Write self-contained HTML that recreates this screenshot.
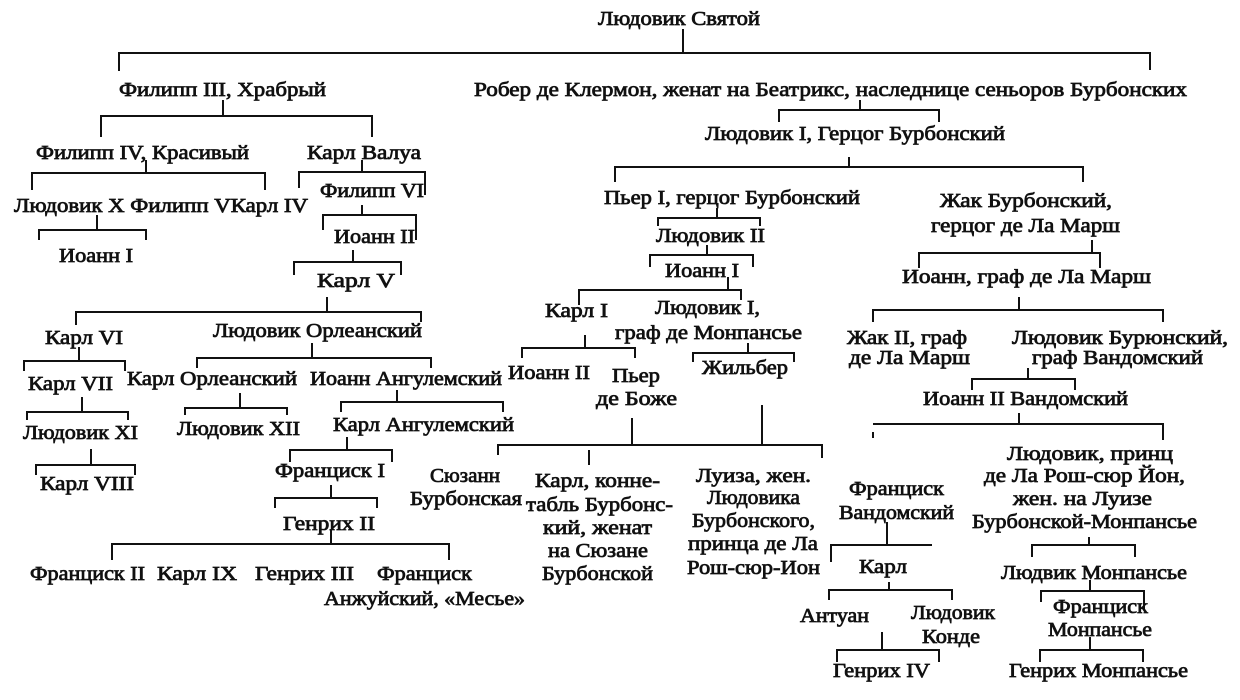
<!DOCTYPE html>
<html><head><meta charset="utf-8"><style>
html,body{margin:0;padding:0;background:#fff;}
svg{display:block;}
text{font-family:"Liberation Serif","DejaVu Serif",serif;font-size:20px;fill:#111;stroke:#111;stroke-width:0.75;}
line,polyline{stroke:#111;stroke-width:2;fill:none;}
</style></head><body>
<svg width="1240" height="700" viewBox="0 0 1240 700" xmlns="http://www.w3.org/2000/svg">
<g>
<text x="598" y="25" textLength="162" lengthAdjust="spacingAndGlyphs">Людовик Святой</text>
<text x="119" y="96" textLength="207" lengthAdjust="spacingAndGlyphs">Филипп III, Храбрый</text>
<text x="474" y="96" textLength="713" lengthAdjust="spacingAndGlyphs">Робер де Клермон, женат на Беатрикс,  наследнице сеньоров Бурбонских</text>
<text x="36" y="159" textLength="213" lengthAdjust="spacingAndGlyphs">Филипп IV, Красивый</text>
<text x="307" y="159" textLength="114" lengthAdjust="spacingAndGlyphs">Карл Валуа</text>
<text x="14" y="212" textLength="294" lengthAdjust="spacingAndGlyphs">Людовик X Филипп VКарл IV</text>
<text x="320" y="197" textLength="104" lengthAdjust="spacingAndGlyphs">Филипп VI</text>
<text x="334" y="243" textLength="81" lengthAdjust="spacingAndGlyphs">Иоанн II</text>
<text x="59" y="262" textLength="74" lengthAdjust="spacingAndGlyphs">Иоанн I</text>
<text x="317" y="287" textLength="78" lengthAdjust="spacingAndGlyphs">Карл V</text>
<text x="45" y="344" textLength="78" lengthAdjust="spacingAndGlyphs">Карл VI</text>
<text x="213" y="337" textLength="209" lengthAdjust="spacingAndGlyphs">Людовик Орлеанский</text>
<text x="28" y="390" textLength="85" lengthAdjust="spacingAndGlyphs">Карл VII</text>
<text x="127" y="385" textLength="170" lengthAdjust="spacingAndGlyphs">Карл Орлеанский</text>
<text x="310" y="385" textLength="192" lengthAdjust="spacingAndGlyphs">Иоанн Ангулемский</text>
<text x="23" y="439" textLength="115" lengthAdjust="spacingAndGlyphs">Людовик XI</text>
<text x="177" y="435" textLength="123" lengthAdjust="spacingAndGlyphs">Людовик XII</text>
<text x="333" y="431" textLength="181" lengthAdjust="spacingAndGlyphs">Карл Ангулемский</text>
<text x="40" y="490" textLength="94" lengthAdjust="spacingAndGlyphs">Карл VIII</text>
<text x="275" y="477" textLength="110" lengthAdjust="spacingAndGlyphs">Франциск I</text>
<text x="283" y="530" textLength="92" lengthAdjust="spacingAndGlyphs">Генрих II</text>
<text x="30" y="580" textLength="115" lengthAdjust="spacingAndGlyphs">Франциск II</text>
<text x="157" y="580" textLength="80" lengthAdjust="spacingAndGlyphs">Карл IX</text>
<text x="255" y="580" textLength="99" lengthAdjust="spacingAndGlyphs">Генрих III</text>
<text x="377" y="580" textLength="95" lengthAdjust="spacingAndGlyphs">Франциск</text>
<text x="324" y="605" textLength="201" lengthAdjust="spacingAndGlyphs">Анжуйский, «Месье»</text>

<text x="705" y="140" textLength="300" lengthAdjust="spacingAndGlyphs">Людовик I, Герцог Бурбонский</text>
<text x="604" y="204" textLength="256" lengthAdjust="spacingAndGlyphs">Пьер I, герцог Бурбонский</text>
<text x="940" y="207" textLength="172" lengthAdjust="spacingAndGlyphs">Жак Бурбонский,</text>
<text x="931" y="232" textLength="189" lengthAdjust="spacingAndGlyphs">герцог де Ла Марш</text>
<text x="656" y="242" textLength="109" lengthAdjust="spacingAndGlyphs">Людовик II</text>
<text x="665" y="277" textLength="74" lengthAdjust="spacingAndGlyphs">Иоанн I</text>
<text x="902" y="283" textLength="249" lengthAdjust="spacingAndGlyphs">Иоанн, граф де Ла Марш</text>
<text x="545" y="317" textLength="63" lengthAdjust="spacingAndGlyphs">Карл I</text>
<text x="655" y="314" textLength="105" lengthAdjust="spacingAndGlyphs">Людовик I,</text>
<text x="615" y="339" textLength="187" lengthAdjust="spacingAndGlyphs">граф де Монпансье</text>
<text x="847" y="344" textLength="120" lengthAdjust="spacingAndGlyphs">Жак II, граф</text>
<text x="849" y="364" textLength="121" lengthAdjust="spacingAndGlyphs">де Ла Марш</text>
<text x="1012" y="344" textLength="216" lengthAdjust="spacingAndGlyphs">Людовик Бурюнский,</text>
<text x="1032" y="364" textLength="171" lengthAdjust="spacingAndGlyphs">граф Вандомский</text>
<text x="508" y="379" textLength="82" lengthAdjust="spacingAndGlyphs">Иоанн II</text>
<text x="612" y="382" textLength="48" lengthAdjust="spacingAndGlyphs">Пьер</text>
<text x="596" y="405" textLength="81" lengthAdjust="spacingAndGlyphs">де Боже</text>
<text x="702" y="374" textLength="86" lengthAdjust="spacingAndGlyphs">Жильбер</text>
<text x="923" y="405" textLength="205" lengthAdjust="spacingAndGlyphs">Иоанн II Вандомский</text>
<text x="1007" y="460" textLength="166" lengthAdjust="spacingAndGlyphs">Людовик, принц</text>
<text x="984" y="482" textLength="201" lengthAdjust="spacingAndGlyphs">де Ла Рош-сюр Йон,</text>
<text x="1013" y="505" textLength="139" lengthAdjust="spacingAndGlyphs">жен. на Луизе</text>
<text x="972" y="528" textLength="225" lengthAdjust="spacingAndGlyphs">Бурбонской-Монпансье</text>

<text x="430" y="482" textLength="70" lengthAdjust="spacingAndGlyphs">Сюзанн</text>
<text x="410" y="505" textLength="112" lengthAdjust="spacingAndGlyphs">Бурбонская</text>
<text x="535" y="487" textLength="125" lengthAdjust="spacingAndGlyphs">Карл, конне-</text>
<text x="526" y="511" textLength="147" lengthAdjust="spacingAndGlyphs">табль Бурбонс-</text>
<text x="543" y="534" textLength="109" lengthAdjust="spacingAndGlyphs">кий, женат</text>
<text x="548" y="557" textLength="100" lengthAdjust="spacingAndGlyphs">на Сюзане</text>
<text x="542" y="580" textLength="111" lengthAdjust="spacingAndGlyphs">Бурбонской</text>
<text x="696" y="482" textLength="115" lengthAdjust="spacingAndGlyphs">Луиза, жен.</text>
<text x="707" y="504" textLength="93" lengthAdjust="spacingAndGlyphs">Людовика</text>
<text x="692" y="527" textLength="123" lengthAdjust="spacingAndGlyphs">Бурбонского,</text>
<text x="688" y="550" textLength="130" lengthAdjust="spacingAndGlyphs">принца де Ла</text>
<text x="687" y="574" textLength="133" lengthAdjust="spacingAndGlyphs">Рош-сюр-Ион</text>

<text x="849" y="495" textLength="95" lengthAdjust="spacingAndGlyphs">Франциск</text>
<text x="839" y="519" textLength="115" lengthAdjust="spacingAndGlyphs">Вандомский</text>
<text x="859" y="573" textLength="48" lengthAdjust="spacingAndGlyphs">Карл</text>
<text x="800" y="622" textLength="69" lengthAdjust="spacingAndGlyphs">Антуан</text>
<text x="911" y="619" textLength="84" lengthAdjust="spacingAndGlyphs">Людовик</text>
<text x="922" y="643" textLength="58" lengthAdjust="spacingAndGlyphs">Конде</text>
<text x="833" y="677" textLength="97" lengthAdjust="spacingAndGlyphs">Генрих IV</text>
<text x="1001" y="579" textLength="186" lengthAdjust="spacingAndGlyphs">Людвик Монпансье</text>
<text x="1053" y="613" textLength="95" lengthAdjust="spacingAndGlyphs">Франциск</text>
<text x="1048" y="636" textLength="104" lengthAdjust="spacingAndGlyphs">Монпансье</text>
<text x="1009" y="677" textLength="179" lengthAdjust="spacingAndGlyphs">Генрих Монпансье</text>
</g>

<line x1="683" y1="29" x2="683" y2="53"/>
<polyline points="119,71 119,53 1150,53 1150,70"/>
<line x1="223" y1="100" x2="223" y2="116"/>
<polyline points="101,137 101,116 372,116 372,137"/>
<line x1="146" y1="160" x2="146" y2="173"/>
<polyline points="32,190 32,173 265,173 265,190"/>
<line x1="97" y1="215" x2="97" y2="230"/>
<polyline points="39,240 39,230 146,230 146,240"/>
<line x1="362" y1="160" x2="362" y2="172"/>
<polyline points="299,188 299,172 425,172 425,195"/>
<line x1="362" y1="205" x2="362" y2="215"/>
<polyline points="323,230 323,215 416,215 416,240"/>
<line x1="353" y1="250" x2="353" y2="262"/>
<polyline points="294,275 294,262 401,262 401,275"/>
<line x1="327" y1="297" x2="327" y2="312"/>
<polyline points="76,325 76,312 421,312 421,322"/>
<line x1="79" y1="347" x2="79" y2="361"/>
<polyline points="24,371 24,361 125,361 125,371"/>
<line x1="312" y1="343" x2="312" y2="358"/>
<polyline points="197,368 197,358 431,358 431,368"/>
<line x1="82" y1="397" x2="82" y2="412"/>
<polyline points="27,420 27,412 128,412 128,420"/>
<line x1="240" y1="393" x2="240" y2="408"/>
<polyline points="185,415 185,408 287,408 287,415"/>
<line x1="397" y1="390" x2="397" y2="402"/>
<polyline points="341,412 341,402 503,402 503,412"/>
<line x1="91" y1="449" x2="91" y2="465"/>
<polyline points="36,475 36,465 135,465 135,475"/>
<line x1="347" y1="437" x2="347" y2="450"/>
<polyline points="290,462 290,450 392,450 392,462"/>
<line x1="331" y1="485" x2="331" y2="498"/>
<polyline points="275,508 275,498 377,498 377,508"/>
<line x1="331" y1="530" x2="331" y2="544"/>
<polyline points="112,560 112,544 449,544 449,560"/>

<line x1="860" y1="100" x2="860" y2="110"/>
<polyline points="779,122 779,110 939,110 939,122"/>
<line x1="849" y1="157" x2="849" y2="167"/>
<polyline points="615,182 615,167 1083,167 1083,182"/>
<line x1="717" y1="208" x2="717" y2="218"/>
<polyline points="658,226 658,218 760,218 760,226"/>
<line x1="707" y1="245" x2="707" y2="255"/>
<polyline points="650,267 650,255 753,255 753,267"/>
<line x1="728" y1="277" x2="728" y2="290"/>
<polyline points="579,305 579,290 741,290 741,300"/>
<line x1="585" y1="335" x2="585" y2="348"/>
<polyline points="522,358 522,348 635,348 635,358"/>
<line x1="748" y1="343" x2="748" y2="353"/>
<polyline points="693,362 693,353 794,353 794,362"/>
<line x1="632" y1="418" x2="632" y2="445"/>
<line x1="762" y1="405" x2="762" y2="445"/>
<polyline points="498,455 498,445 822,445 822,458"/>
<line x1="589" y1="450" x2="589" y2="465"/>

<line x1="1092" y1="240" x2="1092" y2="253"/>
<polyline points="919,268 919,253 1100,253 1100,268"/>
<line x1="1019" y1="297" x2="1019" y2="310"/>
<polyline points="873,322 873,310 1163,310 1163,322"/>
<line x1="1028" y1="368" x2="1028" y2="379"/>
<polyline points="972,390 972,379 1075,379 1075,390"/>
<line x1="1019" y1="413" x2="1019" y2="424"/>
<polyline points="873,424 1163,424 1163,440"/>
<line x1="873" y1="432" x2="873" y2="438"/>
<line x1="887" y1="522" x2="887" y2="545"/>
<polyline points="831,562 831,545 932,545"/>
<line x1="889" y1="582" x2="889" y2="590"/>
<polyline points="829,600 829,590 952,590 952,600"/>
<line x1="882" y1="632" x2="882" y2="650"/>
<polyline points="837,662 837,650 939,650 939,662"/>
<line x1="1089" y1="537" x2="1089" y2="545"/>
<polyline points="1032,557 1032,545 1135,545 1135,557"/>
<line x1="1090" y1="580" x2="1090" y2="591"/>
<polyline points="1041,602 1041,591 1144,591 1144,610"/>
<line x1="1090" y1="637" x2="1090" y2="650"/>
<polyline points="1040,662 1040,650 1143,650 1143,662"/>
</svg>
</body></html>
